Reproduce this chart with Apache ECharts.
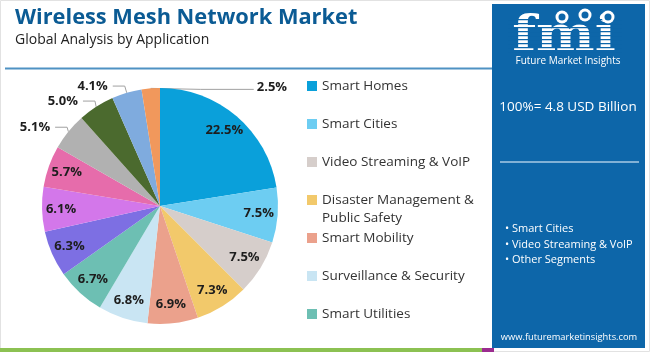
<!DOCTYPE html>
<html><head><meta charset="utf-8">
<script src="https://cdn.jsdelivr.net/npm/echarts@6/dist/echarts.min.js"></script>
<style>html,body{margin:0;padding:0;background:#fff}#c{width:650px;height:352px}</style>
</head><body><div id="c"></div>
<script>
// ---- data ----
const categories = ['Smart Homes', 'Smart Cities', 'Video Streaming & VoIP', 'Disaster Management & Public Safety',
  'Smart Mobility', 'Surveillance & Security', 'Smart Utilities', 'Segment 8', 'Segment 9', 'Segment 10',
  'Segment 11', 'Segment 12', 'Segment 13', 'Segment 14'];
const shares = [22.5, 7.5, 7.5, 7.3, 6.9, 6.8, 6.7, 6.3, 6.1, 5.7, 5.1, 5.0, 4.1, 2.5];
const sliceColors = ['#0aa0da', '#6dcdf2', '#d6cecb', '#f2c96b', '#eba18c', '#c9e5f3', '#6dbfb3',
  '#7d6fe3', '#d377ea', '#e66cab', '#b1b1b1', '#4b6a2e', '#7fabde', '#f1985c'];
const outsideLabelNames = ['Segment 11', 'Segment 12', 'Segment 13'];
const rightCalloutName = 'Segment 14';
const legendGroupA = ['Smart Homes', 'Smart Cities', 'Video Streaming & VoIP'];
const legendGroupC = ['Disaster Management & Public Safety'];
const legendGroupB = ['Smart Mobility', 'Surveillance & Security', 'Smart Utilities'];
const titleText = 'Wireless Mesh Network Market';
const subtitleText = 'Global Analysis by Application';
const totalText = '100%= 4.8 USD Billion';
const panelBullets = ['Smart Cities', 'Video Streaming & VoIP', 'Other Segments'];
const logoText = 'fmi';
const brandName = 'Future Market Insights';
const siteText = 'www.futuremarketinsights.com';

// ---- chart ----
const chart = echarts.init(document.getElementById('c'), null, {renderer: 'canvas'});
const FONT = '"Open Sans", "Noto Sans", sans-serif';
const CENTER = [160, 206];
const R = 118;
const LONG_NAME = 'Disaster Management & Public Safety';
const PANEL = '#0d66a9';

const pctFmt = p => p.value.toFixed(1) + '%';
const labelFont = {fontFamily: FONT, fontSize: 13, fontWeight: 'bold', color: '#1d1d1d'};

const legendCommon = {
  orient: 'vertical', left: 307, padding: 0, itemWidth: 10, itemHeight: 10, itemGap: 20, icon: 'rect',
  selectedMode: false,
  textStyle: {fontFamily: FONT, fontSize: 13.5, color: '#333', lineHeight: 18},
  formatter: n => n === LONG_NAME ? '\nDisaster Management &\nPublic Safety' : n
};

function txt(x, y, text, size, opts) {
  return {
    type: 'text', silent: true,
    style: Object.assign({x: x, y: y, text: text, fill: '#fff', fontSize: size, fontFamily: FONT,
      align: 'center', verticalAlign: 'middle'}, opts || {})
  };
}

const logo = txt(564, 13, logoText, 49, {fontFamily: '"DejaVu Serif", serif', fontWeight: 'bold', verticalAlign: 'top'});
logo.scaleX = 1.13; logo.originX = 564; logo.originY = 30;

const graphics = [
  {type: 'rect', shape: {x: 0.5, y: 0.5, width: 649, height: 351}, style: {fill: 'none', stroke: '#e2e2e2', lineWidth: 1}, silent: true},
  {type: 'line', shape: {x1: 5, y1: 68.5, x2: 492, y2: 68.5}, style: {stroke: '#4e92c3', lineWidth: 2}, silent: true},
  {type: 'rect', shape: {x: 0, y: 348, width: 482, height: 4}, style: {fill: '#8cc152'}, silent: true},
  {type: 'rect', shape: {x: 482, y: 348, width: 12, height: 4}, style: {fill: '#9b2c8f'}, silent: true},
  {type: 'rect', shape: {x: 492, y: 4, width: 153, height: 344}, style: {fill: PANEL}, silent: true},
  logo
];
// logo stripes
for (let y = 19; y < 52; y += 4) {
  graphics.push({type: 'rect', shape: {x: 508, y: y, width: 114, height: 1.2}, style: {fill: PANEL}, silent: true});
}
[[562, 17], [585, 15], [608, 17]].forEach(c => {
  graphics.push({type: 'circle', shape: {cx: c[0], cy: c[1], r: 6.5}, style: {fill: '#fff'}, silent: true});
  graphics.push({type: 'circle', shape: {cx: c[0], cy: c[1], r: 3.5}, style: {fill: PANEL}, silent: true});
});
graphics.push(
  txt(568, 61, brandName, 10),
  txt(568, 107, totalText, 13.5),
  {type: 'line', shape: {x1: 500, y1: 162, x2: 639, y2: 162}, style: {stroke: '#a9cbe6', lineWidth: 1.5}, silent: true},
  txt(569, 337, siteText, 9.3)
);
panelBullets.forEach((b, i) => {
  graphics.push(txt(505, 229 + i * 15.5, '\u2022 ' + b, 11, {align: 'left'}));
});

const overlayBase = {
  type: 'pie', center: CENTER, startAngle: 90, clockwise: true,
  silent: true, emphasis: {disabled: true},
  itemStyle: {color: 'rgba(0,0,0,0)', borderWidth: 0}
};

const option = {
  animation: false,
  title: {
    text: titleText, subtext: subtitleText, left: 10, top: 2, itemGap: 4,
    textStyle: {fontFamily: FONT, fontSize: 21.8, fontWeight: 'bold', color: '#0b5b94'},
    subtextStyle: {fontFamily: FONT, fontSize: 14, color: '#222'}
  },
  color: sliceColors,
  legend: [
    Object.assign({}, legendCommon, {top: 77, data: legendGroupA}),
    Object.assign({}, legendCommon, {top: 173, data: legendGroupC}),
    Object.assign({}, legendCommon, {top: 229, data: legendGroupB})
  ],
  graphic: graphics,
  series: [
    {
      type: 'pie', center: CENTER, radius: [0, R], startAngle: 90, clockwise: true,
      silent: true, label: {show: false}, labelLine: {show: false},
      itemStyle: {borderWidth: 0},
      data: categories.map((n, i) => ({name: n, value: shares[i], itemStyle: {color: sliceColors[i]}}))
    },
    Object.assign({}, overlayBase, {
      radius: [74, R],
      label: Object.assign({show: true, position: 'inside', formatter: pctFmt}, labelFont),
      labelLine: {show: true, length: 7, length2: 12, lineStyle: {color: '#a0a0a0', width: 1}},
      data: categories.map((n, i) => ({
        name: n, value: shares[i],
        label: n === rightCalloutName ? {show: false}
          : (outsideLabelNames.includes(n) ? {position: 'outside'} : {})
      }))
    }),
    Object.assign({}, overlayBase, {
      radius: [74, R],
      label: Object.assign({show: true, position: 'outside', formatter: pctFmt}, labelFont),
      labelLine: {show: true, length: 4, length2: 6, lineStyle: {color: '#a0a0a0', width: 1}},
      labelLayout: function (p) {
        if (!p.labelLinePoints) return {};
        const s = p.labelLinePoints[0];
        return {
          x: s[0] + 106, y: s[1] - 1, align: 'left', verticalAlign: 'middle',
          labelLinePoints: [s, [s[0] + 50, s[1] + 1], [s[0] + 103, s[1] + 1]]
        };
      },
      data: categories.map((n, i) => ({
        name: n, value: shares[i],
        label: {show: n === rightCalloutName}, labelLine: {show: n === rightCalloutName}
      }))
    })
  ]
};
chart.setOption(option);
</script>
</body></html>
